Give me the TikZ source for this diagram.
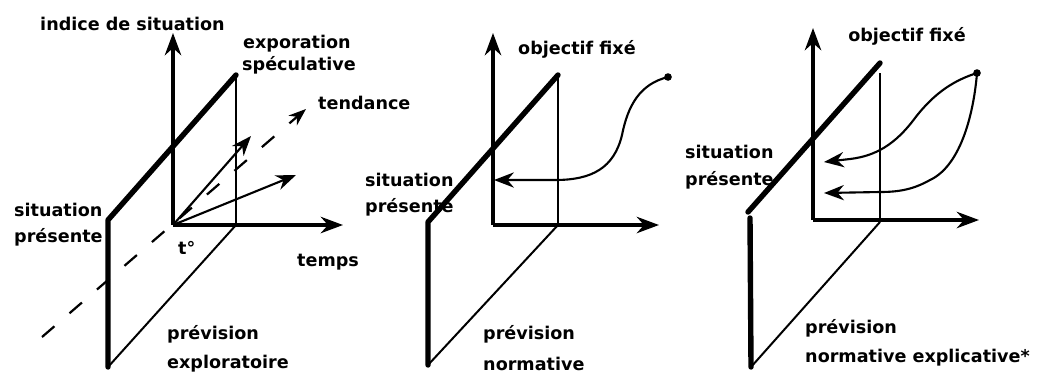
\documentclass[tikz,border=0pt]{standalone}
\usepackage{fontspec}
\setmainfont{DejaVu Sans}
\usetikzlibrary{arrows.meta}
\begin{document}
\begin{tikzpicture}[x=0.03cm,y=-0.03cm,
  thinln/.style={line width=1.7pt},
  medln/.style={line width=2.4pt},
  thickln/.style={line width=4.6pt, line cap=round, line join=round},
  axis/.style={line width=2.8pt,-{Stealth[length=19pt,width=14pt]}},
  curvearrow/.style={line width=1.8pt,-{Stealth[length=17pt,width=13pt]}},
  dashln/.style={line width=1.9pt, dash pattern=on 14pt off 17pt,-{Stealth[length=15pt,width=11pt]}},
  lbl/.style={font=\bfseries\fontsize{15}{17}\selectfont, anchor=west, inner sep=0pt},
  dot/.style={circle, fill=black, inner sep=0pt, minimum size=6.5pt}]
\useasboundingbox (0,0) rectangle (1048,379);

% ---------- Panel 1 ----------
\coordinate (O1) at (173,225);
\coordinate (Y1) at (173,33);
\coordinate (X1) at (343,225);
\coordinate (P1a) at (236,75);
\coordinate (P1b) at (236,225);
\coordinate (P1c) at (108,367);
\coordinate (P1d) at (108,220);
\coordinate (T1s) at (42,337);
\coordinate (T1e) at (306,109);
\coordinate (A1) at (251,136);
\coordinate (B1) at (296,175);
\draw[medln] (P1a) -- (P1b);
\draw[thinln] (P1b) -- (P1c);
\draw[thickln] (P1c) -- (P1d) -- (P1a);
\draw[axis] (O1) -- (Y1);
\draw[axis] (O1) -- (X1);
\draw[dashln] (T1s) -- (T1e);
\draw[curvearrow] (O1) -- (A1);
\draw[curvearrow] (O1) -- (B1);

\node[lbl] (l1a) at (40,24) {indice de situation};
\node[lbl] (l1b) at (243,44) {exporation};
\node[lbl] (l1c) at (242,65) {spéculative};
\node[lbl] (l1d) at (318,103) {tendance};
\node[lbl] (l1e) at (14,210) {situation};
\node[lbl] (l1f) at (14,237) {présente};
\node[lbl] (l1g) at (178,248) {t°};
\node[lbl] (l1h) at (297,262) {temps};
\node[lbl] (l1i) at (167,334) {prévision};
\node[lbl] (l1j) at (167,364) {exploratoire};

% ---------- Panel 2 ----------
\coordinate (O2) at (493,225);
\coordinate (Y2) at (493,33);
\coordinate (X2) at (659,225);
\coordinate (P2a) at (558,75);
\coordinate (P2b) at (558,225);
\coordinate (P2c) at (428,365);
\coordinate (P2d) at (428,222);
\node[dot] (D2) at (668,77) {};
\coordinate (A2) at (494,180);
\draw[medln] (P2a) -- (P2b);
\draw[thinln] (P2b) -- (P2c);
\draw[thickln] (P2c) -- (P2d) -- (P2a);
\draw[axis] (O2) -- (Y2);
\draw[axis] (O2) -- (X2);
\draw[curvearrow] (D2.center) .. controls (640,84) and (628,105) .. (622,135)
   .. controls (614,168) and (592,180) .. (555,180) -- (A2);

\node[lbl] (l2a) at (518,49) {objectif fixé};
\node[lbl] (l2b) at (365,180) {situation};
\node[lbl] (l2c) at (365,207) {présente};
\node[lbl] (l2d) at (483,334) {prévision};
\node[lbl] (l2e) at (483,364) {normative};

% ---------- Panel 3 ----------
\coordinate (O3) at (813,220);
\coordinate (Y3) at (813,28);
\coordinate (X3) at (979,220);
\coordinate (P3a) at (880,63);
\coordinate (P3a2) at (880,73);
\coordinate (P3b) at (880,222);
\coordinate (P3c) at (751,367);
\coordinate (P3d) at (750,218);
\coordinate (P3e) at (748,212);
\node[dot] (D3) at (977,73) {};
\coordinate (A3) at (824,162);
\coordinate (B3) at (824,193);
\draw[medln] (P3a2) -- (P3b);
\draw[thinln] (P3b) -- (P3c);
\draw[thickln] (P3c) -- (P3d);
\draw[thickln] (P3e) -- (P3a);
\draw[axis] (O3) -- (Y3);
\draw[axis] (O3) -- (X3);
\draw[curvearrow] (D3.center) .. controls (955,80) and (935,92) .. (915,118)
   .. controls (895,145) and (875,156) .. (850,159) -- (A3);
\draw[curvearrow] (D3.center) .. controls (974,110) and (962,165) .. (930,180)
   .. controls (914,189) and (900,192) .. (880,192) -- (B3);

\node[lbl] (l3a) at (848,36) {objectif fixé};
\node[lbl] (l3b) at (685,152) {situation};
\node[lbl] (l3c) at (685,180) {présente};
\node[lbl] (l3d) at (805,328) {prévision};
\node[lbl] (l3e) at (805,358) {normative explicative*};
\end{tikzpicture}
\end{document}
